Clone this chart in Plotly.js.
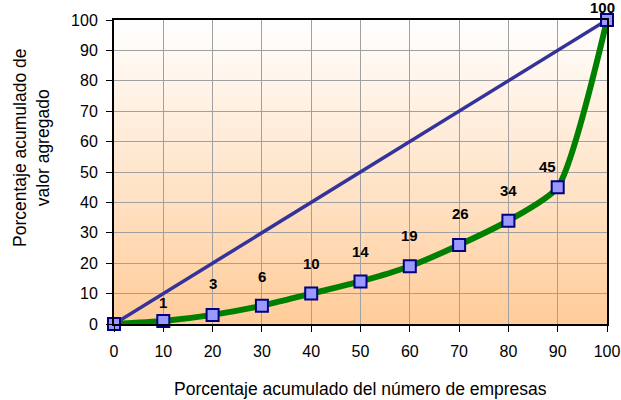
<!DOCTYPE html>
<html>
<head>
<meta charset="utf-8">
<script src="https://cdn.plot.ly/plotly-3.0.1.min.js"></script>
<style>
  html, body { margin: 0; padding: 0; background: #ffffff; }
  #wrap { position: relative; width: 621px; height: 400px; }
  #bg { position: absolute; left: 114px; top: 20px; width: 493px; height: 304px;
        background: linear-gradient(to bottom, #FFFFFF 0%, #FFCC99 100%); }
  #chart { position: absolute; left: 0; top: 0; width: 621px; height: 400px; }
</style>
</head>
<body>
<div id="wrap"><div id="bg"></div><div id="chart"></div></div>
<script>
// Data
const pctEmpresas = [0, 10, 20, 30, 40, 50, 60, 70, 80, 90, 100];
const pctValor    = [0, 1, 3, 6, 10, 14, 19, 26, 34, 45, 100];
const equidad     = [0, 10, 20, 30, 40, 50, 60, 70, 80, 90, 100];
const tickVals    = [0, 10, 20, 30, 40, 50, 60, 70, 80, 90, 100];

// Label placement (pixel offsets, style only)
const labelDx = [0, 0, 0, 0, 0, 0, 0, 1, 0, -10, -5];
const labelDy = [0, 18, 31, 29, 30, 30, 31, 31, 30, 21, 13];

const FONT = 'Arial, "Liberation Sans", sans-serif';

const traces = [
  {
    x: pctEmpresas, y: equidad, type: 'scatter', mode: 'lines',
    line: { color: '#333399', width: 3.5 },
    cliponaxis: false, hoverinfo: 'skip', showlegend: false
  },
  {
    x: pctEmpresas, y: pctValor, type: 'scatter', mode: 'lines+markers',
    line: { color: '#008000', width: 6, shape: 'spline', smoothing: 0.6 },
    marker: { symbol: 'square', size: 12, color: '#9999FF', line: { color: '#000080', width: 2 } },
    cliponaxis: false, showlegend: false
  }
];

const annotations = pctValor.map((v, i) => (i === 0 ? null : {
  x: pctEmpresas[i], y: v, xref: 'x', yref: 'y',
  text: String(v), showarrow: false,
  xshift: labelDx[i], yshift: labelDy[i],
  font: { family: FONT, size: 15, color: '#000000', weight: 'bold' }
})).filter(a => a);

annotations.push({
  xref: 'paper', yref: 'paper', x: 0, y: (324 - 148) / 304,
  xanchor: 'center', yanchor: 'middle',
  xshift: -83, textangle: -90, showarrow: false,
  text: 'Porcentaje acumulado de<br>valor agregado',
  font: { family: FONT, size: 17.5, color: '#000000' }
});
annotations.push({
  xref: 'paper', yref: 'paper', x: 0.5, y: 0, yanchor: 'middle',
  yshift: -65, showarrow: false,
  text: 'Porcentaje acumulado del número de empresas',
  font: { family: FONT, size: 17.5, color: '#000000' }
});

const layout = {
  width: 621, height: 400,
  margin: { l: 114, r: 14, t: 20, b: 76, pad: 0 },
  paper_bgcolor: 'rgba(0,0,0,0)', plot_bgcolor: 'rgba(0,0,0,0)',
  font: { family: FONT, size: 16, color: '#000000' },
  xaxis: {
    range: [0, 100], tickvals: tickVals, ticks: 'outside', ticklen: 6, tickwidth: 1, tickcolor: '#000',
    ticklabelstandoff: 6,
    showgrid: true, gridcolor: '#A0A0A0', gridwidth: 1,
    showline: true, linecolor: '#000000', linewidth: 2, mirror: true,
    zeroline: false, fixedrange: true,
    tickfont: { family: FONT, size: 16, color: '#000' }
  },
  yaxis: {
    range: [0, 100], tickvals: tickVals, ticks: 'outside', ticklen: 6, tickwidth: 1, tickcolor: '#000',
    ticklabelstandoff: 5,
    showgrid: true, gridcolor: '#A0A0A0', gridwidth: 1,
    showline: true, linecolor: '#000000', linewidth: 2, mirror: true,
    zeroline: false, fixedrange: true,
    tickfont: { family: FONT, size: 16, color: '#000' }
  },
  annotations: annotations
};

Plotly.newPlot('chart', traces, layout, { displayModeBar: false, staticPlot: true });
</script>
</body>
</html>
